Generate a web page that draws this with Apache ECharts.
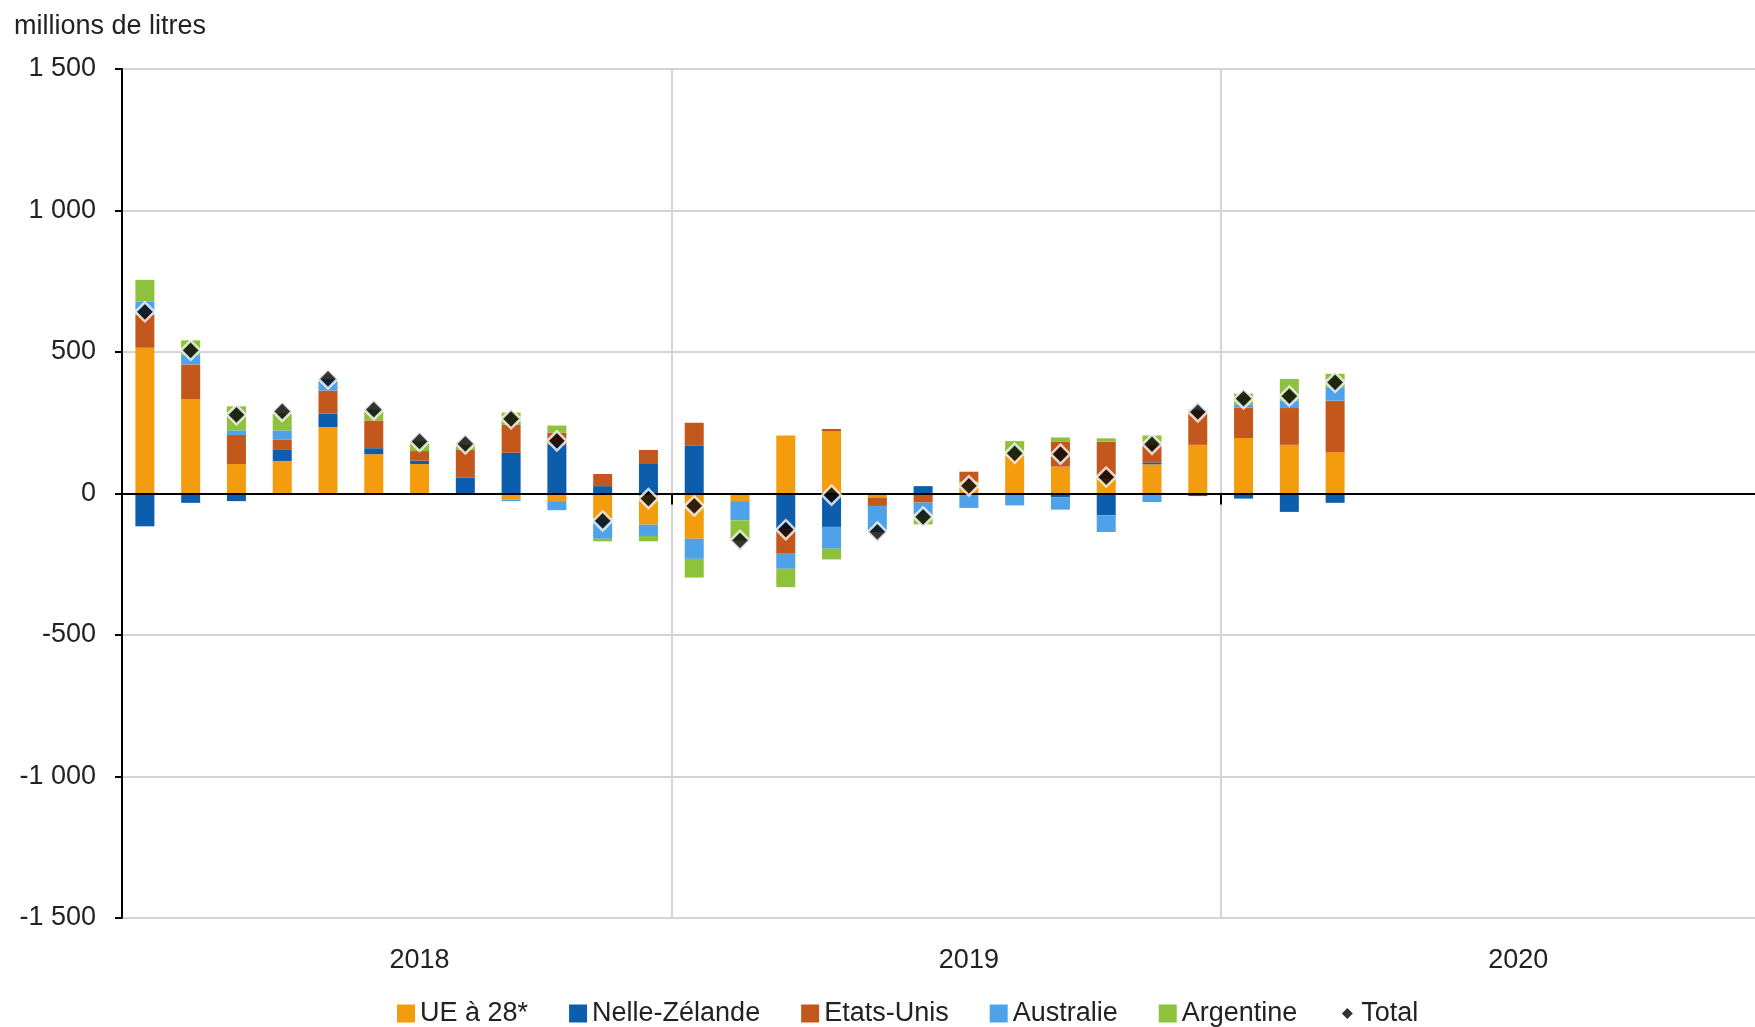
<!DOCTYPE html>
<html>
<head>
<meta charset="utf-8">
<title>Echanges - millions de litres</title>
<script src="https://cdn.jsdelivr.net/npm/echarts@6/dist/echarts.min.js"></script>
<style>
  html, body { margin: 0; padding: 0; background: #fff; }
  #chart { width: 1755px; height: 1027px; }
</style>
</head>
<body>
<div id="chart"></div>
<script>
// categories: one per month, 2018 -> 2020
const years = ['2018', '2019', '2020'];
const monthNames = ['janv.', 'févr.', 'mars', 'avr.', 'mai', 'juin', 'juil.', 'août', 'sept.', 'oct.', 'nov.', 'déc.'];
const yTicks = [-1500, -1000, -500, 0, 500, 1000, 1500];

// values (millions de litres), Jan 2018 .. Mar 2020
const ue = [515, 334, 104, 115, 235, 139, 104, 0, -21, -27, -89, -110, -160, -27, 205, 219, -14, 0, 44, 135, 95, 50, 103, 172, 196, 172, 146];
const nz = [-116, -33, -27, 39, 47, 21, 12, 57, 144, 172, 26, 107, 170, 0, -127, -118, 0, 26, 0, 0, -14, -77, 7, -9, -18, -65, -33];
const us = [116, 122, 103, 37, 82, 98, 34, 97, 100, 43, 43, 47, 80, 0, -86, 9, -30, -32, 33, 0, 89, 133, 62, 120, 107, 130, 182];
const aus = [48, 34, 16, 32, 40, 0, 0, -5, -6, -32, -71, -40, -71, -68, -53, -77, -92, -40, -51, -42, -43, -59, -30, 5, 10, 26, 45];
const arg = [76, 51, 85, 60, 0, 38, 35, 18, 42, 25, -9, -19, -66, -71, -65, -38, 0, -37, 0, 50, 14, 12, 33, 0, 40, 77, 50];
const totals = [642, 506, 278, 290, 405, 296, 184, 175, 264, 186, -97, -18, -44, -166, -128, -6, -136, -83, 27, 142, 139, 58, 174, 288, 335, 344, 393];

const categories = years.flatMap(y => monthNames.map(m => m + ' ' + y));

const FONT = "'Liberation Sans', Arial, sans-serif";
const TEXT = '#222';
const GRID_GRAY = '#d4d4d4';

const fmtNum = v => {
  const s = String(Math.abs(v)).replace(/\B(?=(\d{3})+(?!\d))/g, ' ');
  return (v < 0 ? '-' : '') + s;
};

const makeBar = (name, data, color) => ({
  name: name,
  type: 'bar',
  stack: 'pays',
  barWidth: 19,
  data: data,
  itemStyle: { color: color },
  emphasis: { disabled: true }
});

const chart = echarts.init(document.getElementById('chart'));

const option = {
  animation: false,
  backgroundColor: '#fff',
  textStyle: { fontFamily: FONT },
  title: {
    text: 'millions de litres',
    left: 14,
    top: 13,
    padding: 0,
    textStyle: { fontFamily: FONT, fontSize: 27, fontWeight: 'normal', color: TEXT }
  },
  legend: {
    left: 397,
    top: 1000,
    padding: 0,
    itemGap: 41,
    itemWidth: 18,
    itemHeight: 18,
    textStyle: { fontFamily: FONT, fontSize: 27, color: TEXT },
    data: [
      { name: 'UE à 28*', icon: 'rect' },
      { name: 'Nelle-Zélande', icon: 'rect' },
      { name: 'Etats-Unis', icon: 'rect' },
      { name: 'Australie', icon: 'rect' },
      { name: 'Argentine', icon: 'rect' },
      { name: 'Total', icon: 'path://M0,0 M18,18 M9,3.5 L14.5,9 L9,14.5 L3.5,9 Z', itemStyle: { borderWidth: 0 } }
    ]
  },
  grid: {
    left: 122,
    top: 69,
    width: 1648,
    height: 849,
    containLabel: false,
    outerBoundsMode: 'none'
  },
  xAxis: [
    {
      type: 'category',
      data: categories,
      position: 'bottom',
      axisLine: { show: false, onZero: false },
      axisTick: { show: false },
      axisLabel: {
        interval: (index) => index % 12 === 6,
        formatter: (value, index) => years[Math.floor(index / 12)],
        margin: 29,
        fontFamily: FONT,
        fontSize: 27,
        color: TEXT
      },
      splitLine: {
        show: true,
        interval: (index) => index % 12 === 0,
        lineStyle: { color: GRID_GRAY, width: 2 }
      }
    },
    {
      // zero line with year ticks
      type: 'category',
      data: categories,
      position: 'bottom',
      z: 6,
      axisLine: { show: true, onZero: true, lineStyle: { color: '#000', width: 2 } },
      axisTick: {
        show: true,
        interval: (index) => index % 12 === 0,
        length: 11,
        lineStyle: { color: '#000', width: 2 }
      },
      axisLabel: { show: false },
      splitLine: { show: false }
    }
  ],
  yAxis: {
    type: 'value',
    min: yTicks[0],
    max: yTicks[yTicks.length - 1],
    interval: 500,
    axisLine: { show: true, lineStyle: { color: '#000', width: 2 } },
    axisTick: { show: true, length: 7, lineStyle: { color: '#000', width: 2 } },
    axisLabel: {
      formatter: fmtNum,
      margin: 26,
      fontFamily: FONT,
      fontSize: 27,
      color: TEXT
    },
    splitLine: { show: true, lineStyle: { color: GRID_GRAY, width: 2 } }
  },
  series: [
    makeBar('UE à 28*', ue, '#F39C0D'),
    makeBar('Nelle-Zélande', nz, '#0D5DAD'),
    makeBar('Etats-Unis', us, '#C4581C'),
    makeBar('Australie', aus, '#4DA2EA'),
    makeBar('Argentine', arg, '#8EC23C'),
    {
      name: 'Total',
      type: 'scatter',
      data: totals,
      symbol: 'diamond',
      symbolSize: 19,
      z: 8,
      itemStyle: { color: '#000', borderColor: '#fff', borderWidth: 2.5 },
      emphasis: { disabled: true }
    }
  ]
};

chart.setOption(option);
</script>
</body>
</html>
